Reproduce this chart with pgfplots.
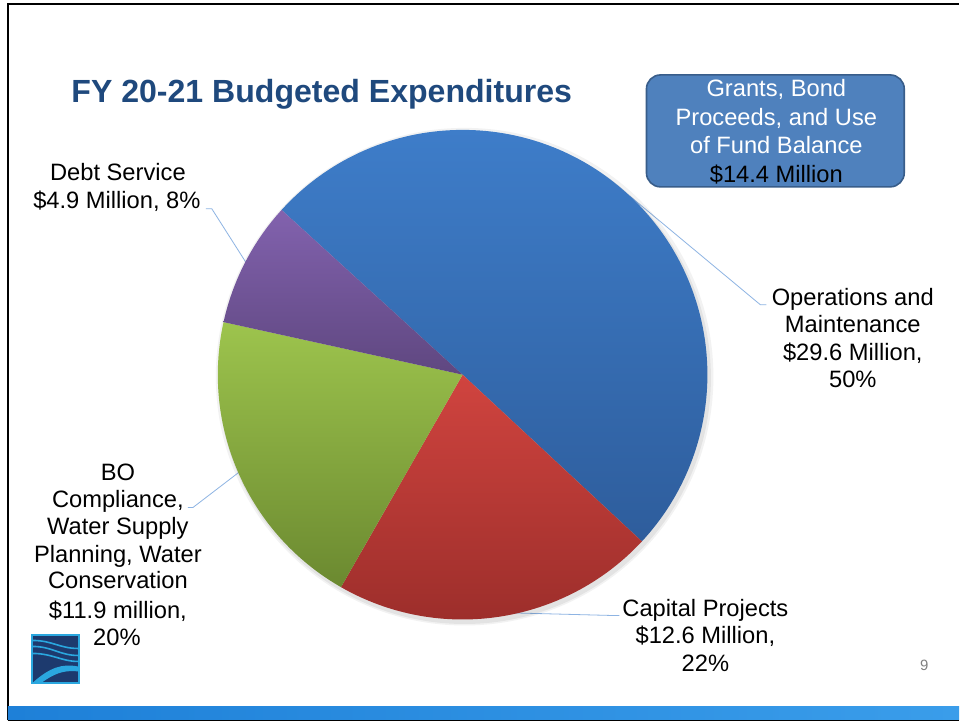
\documentclass[border=0pt]{standalone}
\usepackage{fontspec}
\setmainfont{Liberation Sans}
\usepackage{pgfplots}
\pgfplotsset{compat=1.18}
\usepackage{pgfplotstable}

\definecolor{titleblue}{HTML}{1F497D}
\definecolor{boxfill}{HTML}{4F81BD}
\definecolor{boxedge}{HTML}{385D8A}
\definecolor{leader}{HTML}{8EB4E3}
\definecolor{opsTop}{HTML}{3F7FCC}
\definecolor{opsBot}{HTML}{2E5D9C}
\definecolor{capTop}{HTML}{D0443F}
\definecolor{capBot}{HTML}{982C29}
\definecolor{boTop}{HTML}{9DC44D}
\definecolor{boBot}{HTML}{6B8930}
\definecolor{debtTop}{HTML}{8262AE}
\definecolor{debtBot}{HTML}{5F4780}
\definecolor{logocyan}{HTML}{2AA7DF}
\definecolor{logonavy}{HTML}{1D3A6E}
\definecolor{stripL}{HTML}{1E80D8}
\definecolor{stripR}{HTML}{3A9DEA}

% budget in million $
\pgfplotstableread{
item value
ops  29.6
cap  12.6
bo   11.9
debt 4.9
}\budget

\newcommand\lbl[3]{\node[anchor=base, inner sep=0pt, font=\fontsize{23.8}{28}\selectfont] at (axis cs:#1,#2) {#3};}

\begin{document}
\begin{tikzpicture}
% cumulative angles, clockwise from 137.7 deg
\xdef\total{0}
\pgfplotstableforeachcolumnelement{value}\of\budget\as\v{%
  \pgfmathparse{\total+\v}\xdef\total{\pgfmathresult}}
\xdef\angA{137.7}
\pgfplotstablegetelem{0}{value}\of\budget
\pgfmathparse{\angA-360*\pgfplotsretval/\total}\xdef\angB{\pgfmathresult}
\pgfplotstablegetelem{1}{value}\of\budget
\pgfmathparse{\angB-360*\pgfplotsretval/\total}\xdef\angC{\pgfmathresult}
\pgfplotstablegetelem{2}{value}\of\budget
\pgfmathparse{\angC-360*\pgfplotsretval/\total}\xdef\angD{\pgfmathresult}
\pgfplotstablegetelem{3}{value}\of\budget
\pgfmathparse{\angD-360*\pgfplotsretval/\total}\xdef\angE{\pgfmathresult}

\begin{axis}[
    x=1bp, y=1bp,
    xmin=0, xmax=960, ymin=0, ymax=721,
    y dir=reverse,
    hide axis,
    clip=false,
]
    \fill[white] (axis cs:0,0) rectangle (axis cs:960,721);

    % slide frame and strip
    \draw[black, line width=1.6bp] (axis cs:8,721) -- (axis cs:8,3.8) -- (axis cs:960,3.8);
    \shade[left color=stripL, right color=stripR] (axis cs:8,707) rectangle (axis cs:960,720);
    \draw[black, line width=0.8bp] (axis cs:8,720.6) -- (axis cs:960,720.6);

    % leader lines (under the pie)
    \draw[leader, line width=0.8bp] (axis cs:206,209) -- (axis cs:212,209) -- (axis cs:247,264);
    \draw[leader, line width=0.8bp] (axis cs:767,305) -- (axis cs:761,305) -- (axis cs:630,196);
    \draw[leader, line width=0.8bp] (axis cs:188,508) -- (axis cs:193,508) -- (axis cs:240,472);
    \draw[leader, line width=0.8bp] (axis cs:620,616) -- (axis cs:613,616) -- (axis cs:498,613);

    % pie shadow
    \fill[black, opacity=0.05] (axis cs:465,377) circle[radius=249bp];
    \fill[black, opacity=0.06] (axis cs:465,378) circle[radius=246.5bp];

    % slices
    \path[top color=opsTop, bottom color=opsBot]
        (axis cs:463,375) -- ++(\angA:245bp) arc[start angle=\angA, end angle=\angB, radius=245bp] -- cycle;
    \path[top color=capTop, bottom color=capBot]
        (axis cs:463,375) -- ++(\angB:245bp) arc[start angle=\angB, end angle=\angC, radius=245bp] -- cycle;
    \path[top color=boTop, bottom color=boBot]
        (axis cs:463,375) -- ++(\angC:245bp) arc[start angle=\angC, end angle=\angD, radius=245bp] -- cycle;
    \path[top color=debtTop, bottom color=debtBot]
        (axis cs:463,375) -- ++(\angD:245bp) arc[start angle=\angD, end angle=\angE, radius=245bp] -- cycle;

    % title
    \node[anchor=base, inner sep=0pt, text=titleblue, font=\fontsize{32.2}{36}\selectfont\bfseries]
        at (axis cs:322,102.5) {FY 20-21 Budgeted Expenditures};

    % grants box
    \draw[fill=boxfill, draw=boxedge, line width=1.6bp, rounded corners=14bp]
        (axis cs:647,75) rectangle (axis cs:905,187);
    \node[anchor=base, inner sep=0pt, text=white, font=\fontsize{23.8}{28}\selectfont] at (axis cs:777,97) {Grants, Bond};
    \node[anchor=base, inner sep=0pt, text=white, font=\fontsize{23.8}{28}\selectfont] at (axis cs:777,126) {Proceeds, and Use};
    \node[anchor=base, inner sep=0pt, text=white, font=\fontsize{23.8}{28}\selectfont] at (axis cs:777,154) {of Fund Balance};
    \lbl{777}{183}{\$14.4 Million}

    % slice labels
    \lbl{118}{181}{Debt Service}
    \lbl{117}{209}{\$4.9 Million, 8\%}

    \lbl{853.5}{306}{Operations and}
    \lbl{853.5}{333}{Maintenance}
    \lbl{853.5}{361}{\$29.6 Million,}
    \lbl{853.5}{388}{50\%}

    \lbl{706}{617}{Capital Projects}
    \lbl{706}{644}{\$12.6 Million,}
    \lbl{706}{672}{22\%}

    \lbl{118}{481}{BO}
    \lbl{118}{508}{Compliance,}
    \lbl{118}{535}{Water Supply}
    \lbl{118}{563}{Planning, Water}
    \lbl{118}{589}{Conservation}
    \lbl{118}{619}{\$11.9 million,}
    \lbl{117}{646}{20\%}

    % page number
    \node[anchor=base, inner sep=0pt, text=gray, font=\fontsize{15}{18}\selectfont] at (axis cs:925,671) {9};

    % logo
    \fill[logocyan] (axis cs:31,635) rectangle (axis cs:80,685);
    \fill[logonavy] (axis cs:33,637) rectangle (axis cs:78,683);
    \draw[logocyan, line width=1.6bp] (axis cs:33,641) .. controls (axis cs:52,641) and (axis cs:60,649) .. (axis cs:78,649);
    \draw[logocyan, line width=1.6bp] (axis cs:33,647) .. controls (axis cs:52,647) and (axis cs:60,656) .. (axis cs:78,656);
    \draw[logocyan, line width=1.6bp] (axis cs:33,654) .. controls (axis cs:52,654) and (axis cs:62,662) .. (axis cs:78,662);
    \fill[logocyan] (axis cs:33,683) .. controls (axis cs:50,668) and (axis cs:62,664) .. (axis cs:78,667)
        -- (axis cs:78,672) .. controls (axis cs:62,670) and (axis cs:52,676) .. (axis cs:42,683) -- cycle;
\end{axis}
\end{tikzpicture}
\end{document}
